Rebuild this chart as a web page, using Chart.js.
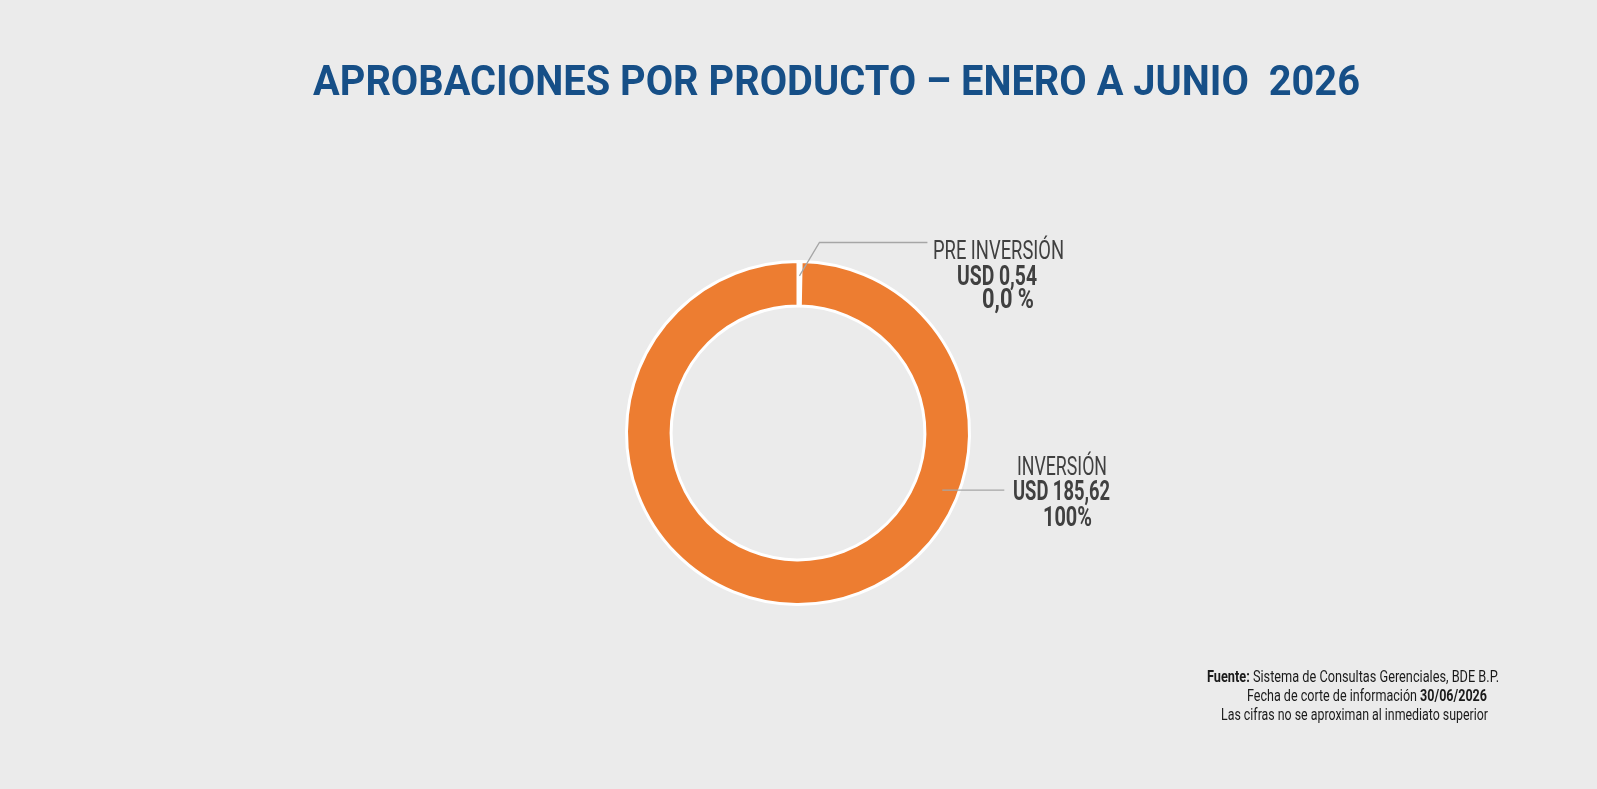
<!DOCTYPE html>
<html>
<head>
<meta charset="utf-8">
<script src="https://cdn.jsdelivr.net/npm/chart.js@4"></script>
<style>
    html, body { margin: 0; padding: 0; background: #ebebeb; }
    #wrap { position: relative; width: 1597px; height: 789px; }
</style>
</head>
<body>
<div id="wrap"><canvas id="donut"></canvas></div>
<script>
// chart data
const categories = ['PRE INVERSIÓN', 'INVERSIÓN'];
const amounts = [0.54, 185.62];
const valueLabels = ['USD 0,54', 'USD 185,62'];
const percentLabels = ['0,0 %', '100%'];
const sliceColors = ['#ed7d31', '#ed7d31'];

const titleText = 'APROBACIONES POR PRODUCTO – ENERO A JUNIO  2026';
const footerLines = [
    [['Fuente: ', true], ['Sistema de Consultas Gerenciales, BDE B.P.', false]],
    [['Fecha de corte de información ', false], ['30/06/2026', true]],
    [['Las cifras no se aproximan al inmediato superior', false]]
];

const family = 'Roboto, "Liberation Sans", sans-serif';

/**
 * Draw a run of [text, bold] parts starting at x, squeezed to the given width
 */
function drawFit(ctx, parts, x, y, width, size) {
    const fonts = parts.map(([, b]) => (b ? 'bold ' : '') + size + 'px ' + family);
    let total = 0;
    const widths = parts.map(([t], i) => {
        ctx.font = fonts[i];
        const w = ctx.measureText(t).width;
        total += w;
        return w;
    });
    ctx.save();
    ctx.translate(x, y);
    ctx.scale(width / total, 1);
    ctx.textAlign = 'left';
    let cx = 0;
    parts.forEach(([t], i) => {
        ctx.font = fonts[i];
        ctx.fillText(t, cx, 0);
        cx += widths[i];
    });
    ctx.restore();
}

const decorPlugin = {
    id: 'decor',
    afterDraw(chart) {
        const ctx = chart.ctx;
        const arcs = chart.getDatasetMeta(0).data;
        ctx.save();
        ctx.textBaseline = 'alphabetic';

        // title
        ctx.fillStyle = '#164f87';
        drawFit(ctx, [[titleText, true]], 313, 95, 1047, 42);

        // leader lines
        ctx.strokeStyle = '#a6a6a6';
        ctx.lineWidth = 1.3;

        const a0 = arcs[0];
        const mid0 = (a0.startAngle + a0.endAngle) / 2;
        const r0 = (a0.outerRadius + a0.innerRadius) / 2 + 8;
        const p0 = { x: a0.x + Math.cos(mid0) * r0, y: a0.y + Math.sin(mid0) * r0 };
        const top0 = a0.y - a0.outerRadius - 19;
        ctx.beginPath();
        ctx.moveTo(p0.x, p0.y);
        ctx.lineTo(p0.x + 20, top0);
        ctx.lineTo(p0.x + 128, top0);
        ctx.stroke();

        const a1 = arcs[1];
        const ang1 = 0.377;
        const r1 = (a1.outerRadius + a1.innerRadius) / 2 + 6;
        const p1 = { x: a1.x + Math.cos(ang1) * r1, y: a1.y + Math.sin(ang1) * r1 };
        ctx.beginPath();
        ctx.moveTo(p1.x, p1.y);
        ctx.lineTo(p1.x + 62, p1.y);
        ctx.stroke();

        // slice labels
        ctx.fillStyle = '#404040';
        drawFit(ctx, [[categories[0], false]], 933, 259, 131, 25);
        drawFit(ctx, [[valueLabels[0], true]], 957, 285, 80, 27);
        drawFit(ctx, [[percentLabels[0], true]], 982, 308, 52, 27);

        drawFit(ctx, [[categories[1], false]], 1017, 475, 90, 25);
        drawFit(ctx, [[valueLabels[1], true]], 1013, 500, 97, 27);
        drawFit(ctx, [[percentLabels[1], true]], 1043, 526, 49, 27);

        // footer
        ctx.fillStyle = '#1a1a1a';
        drawFit(ctx, footerLines[0], 1207, 682, 292, 16);
        drawFit(ctx, footerLines[1], 1247, 701, 240, 16);
        drawFit(ctx, footerLines[2], 1221, 720, 267, 16);

        ctx.restore();
    }
};

new Chart(document.getElementById('donut'), {
    type: 'doughnut',
    data: {
        labels: categories,
        datasets: [{
            data: amounts,
            backgroundColor: sliceColors,
            borderColor: '#ffffff',
            borderWidth: 3
        }]
    },
    options: {
        responsive: true,
        maintainAspectRatio: false,
        animation: false,
        cutout: '74%',
        layout: {
            padding: { top: 260, bottom: 183, left: 625, right: 626 }
        },
        plugins: {
            legend: { display: false },
            tooltip: { enabled: false }
        }
    },
    plugins: [decorPlugin]
});
</script>
</body>
</html>
